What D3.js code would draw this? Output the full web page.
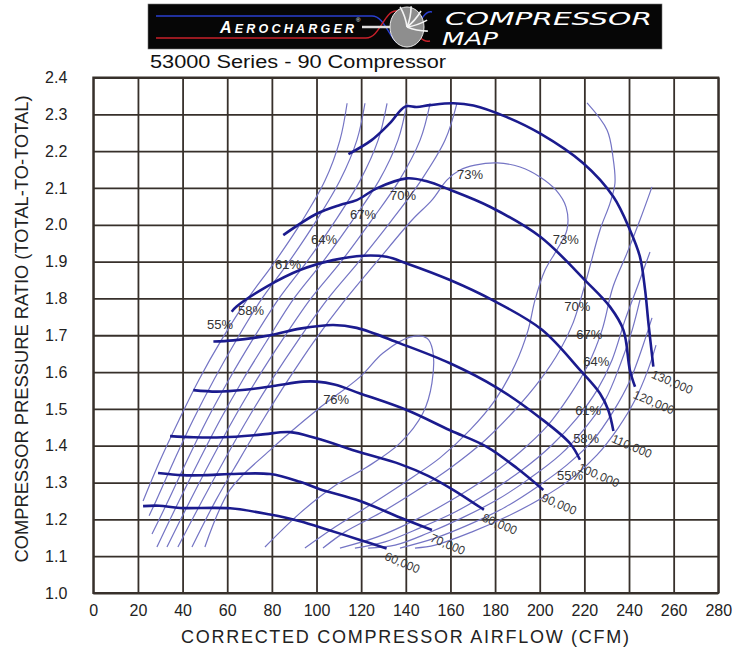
<!DOCTYPE html>
<html>
<head>
<meta charset="utf-8">
<script src="https://cdn.jsdelivr.net/npm/d3@7"></script>
<style>
  body { margin: 0; background: #fff; }
  text { font-family: "Liberation Sans", Arial, Helvetica, sans-serif; }
</style>
</head>
<body>
<svg id="map"></svg>
<script>
// Tick values
const xTicks = [0, 20, 40, 60, 80, 100, 120, 140, 160, 180, 200, 220, 240, 260, 280];
const yTicks = [1.0, 1.1, 1.2, 1.3, 1.4, 1.5, 1.6, 1.7, 1.8, 1.9, 2.0, 2.1, 2.2, 2.3, 2.4];

// Speed lines [cfm, pressure ratio]
const spd60 = [[22.3,1.236],[29.5,1.237],[38.9,1.231],[61.3,1.230],[79.2,1.213],[92.6,1.195],[105,1.172],[119.5,1.144],[131.4,1.121]];
const spd70 = [[29.0,1.326],[40,1.320],[50,1.320],[61.3,1.323],[79.2,1.323],[92.6,1.302],[101.5,1.282],[119.5,1.250],[137.4,1.205],[151.7,1.171]];
const spd80 = [[34.4,1.426],[45,1.423],[58.1,1.423],[75,1.430],[88.1,1.437],[100,1.420],[119.5,1.382],[137.4,1.350],[150,1.318],[161.2,1.280],[175.0,1.226]];
const spd90 = [[44.8,1.551],[55.3,1.547],[68,1.552],[80.6,1.562],[94.1,1.574],[100.1,1.574],[108,1.566],[119.5,1.542],[140.4,1.497],[159.8,1.442],[176.3,1.397],[190,1.338],[201.6,1.280]];
const spd100 = [[53.8,1.683],[62.7,1.686],[79.2,1.700],[92.6,1.718],[107.5,1.728],[118,1.720],[137.4,1.678],[159.8,1.624],[180.7,1.558],[200.1,1.476],[213.6,1.406],[218,1.362]];
const spd110 = [[62,1.764],[64.2,1.778],[77.7,1.832],[92.6,1.877],[107.4,1.904],[121,1.916],[131.4,1.913],[140.4,1.895],[159.8,1.850],[179.3,1.794],[201,1.715],[218,1.606],[227,1.542],[230.7,1.497],[233,1.440]];
const spd120 = [[85.1,1.972],[100.1,2.030],[110.5,2.054],[118,2.067],[127,2.099],[140.4,2.126],[149.4,2.118],[159.8,2.095],[177.7,2.049],[200.1,1.968],[221,1.845],[231.5,1.777],[237.5,1.714],[240.4,1.605],[242.7,1.560]];
const spd130 = [[114.3,2.192],[124.7,2.230],[132.9,2.276],[139.7,2.321],[144.9,2.320],[150.9,2.325],[161.3,2.330],[170.3,2.324],[185,2.293],[200.1,2.248],[219.5,2.167],[233,2.076],[240.4,1.986],[244.9,1.913],[247.2,1.823],[248.7,1.733],[250.9,1.615]];
const speedNames = ["60,000", "70,000", "80,000", "90,000", "100,000", "110,000", "120,000", "130,000"];

// Efficiency contours, surge side
const eff55L = [[113.7,2.33],[110.5,2.23],[103.8,2.12],[93.5,2.01],[81.4,1.90],[69.3,1.80],[57.7,1.69],[47.4,1.58],[38.4,1.47],[29.9,1.36],[22.3,1.25]];
const eff58L = [[121.7,2.33],[118.1,2.23],[110.5,2.12],[99.8,2.01],[87.7,1.90],[75.6,1.80],[64.4,1.69],[54.1,1.58],[44.7,1.47],[36.2,1.36],[28.1,1.25],[25.0,1.21]];
const eff61L = [[131.6,2.33],[127.6,2.23],[119.5,2.12],[108.3,2.01],[95.7,1.90],[83.2,1.80],[71.6,1.69],[60.8,1.58],[50.9,1.47],[42.0,1.36],[33.5,1.25],[26.3,1.16]];
const eff64L = [[140.5,2.33],[136.5,2.23],[128.0,2.12],[115.9,2.01],[102.9,1.90],[89.9,1.80],[78.3,1.69],[67.1,1.58],[56.8,1.47],[47.4,1.36],[38.4,1.25],[28.5,1.125]];
const eff67L = [[150.9,2.33],[146.4,2.23],[137.0,2.12],[124.4,2.01],[111.0,1.90],[97.5,1.80],[85.0,1.69],[73.3,1.58],[62.6,1.47],[52.7,1.36],[43.3,1.25],[33.0,1.125]];
const eff70L = [[162.9,2.33],[157.6,2.23],[146.8,2.12],[133.4,2.01],[119.0,1.90],[105.2,1.80],[92.2,1.69],[80.1,1.58],[68.9,1.47],[58.6,1.36],[48.7,1.25],[37.9,1.125]];

// Efficiency contours, choke side
const eff55R = [[252.1,1.673],[248.5,1.606],[242.7,1.524],[235.1,1.448],[225.7,1.375],[214.5,1.312],[201.0,1.258],[185.8,1.209],[169.7,1.166],[153.1,1.130],[144.1,1.122]];
const eff58R = [[250.3,1.747],[246.3,1.673],[240.5,1.578],[232.8,1.492],[223.9,1.415],[212.2,1.348],[198.8,1.288],[184.5,1.233],[168.8,1.187],[153.1,1.149],[137.4,1.122]];
const eff61R = [[244.9,1.796],[241.4,1.714],[236.0,1.619],[229.3,1.524],[220.3,1.448],[209.1,1.375],[195.7,1.312],[180.9,1.253],[165.2,1.204],[150.0,1.163],[135.2,1.130],[123.1,1.122]];
const eff64R = [[249.4,1.926],[244.0,1.836],[238.2,1.741],[232.4,1.633],[225.7,1.551],[216.7,1.475],[205.5,1.402],[192.1,1.334],[177.7,1.275],[162.1,1.220],[146.4,1.177],[130.7,1.139],[117.2,1.122]];
const eff67R = [[250.3,2.103],[244.9,2.013],[239.1,1.923],[232.8,1.831],[227.9,1.714],[221.6,1.619],[213.6,1.538],[203.7,1.456],[191.2,1.383],[176.8,1.315],[160.7,1.253],[144.1,1.198],[127.6,1.153],[110.5,1.122]];
const eff70R = [[221.2,2.331],[230.2,2.257],[232.8,2.184],[233.7,2.113],[231.5,2.059],[227.0,1.986],[221.2,1.858],[214.9,1.733],[209.1,1.660],[200.1,1.578],[188.9,1.497],[175.5,1.415],[159.8,1.339],[144.1,1.275],[128.5,1.217],[112.8,1.166],[102.9,1.122]];

// Islands
const eff73 = [[44.2,1.125],[55.0,1.253],[65.3,1.361],[76.0,1.470],[87.2,1.578],[99.3,1.687],[112.8,1.796],[127.6,1.904],[142.8,2.013],[151.7,2.067],[158.5,2.122],[164.3,2.149],[171.0,2.162],[180.9,2.168],[191.2,2.157],[200.1,2.130],[207.3,2.094],[211.8,2.048],[212.2,1.986],[207.7,1.932],[202.4,1.877],[197.9,1.796],[194.8,1.714],[188.9,1.619],[180.0,1.524],[168.8,1.443],[155.3,1.367],[139.7,1.301],[124.0,1.239],[108.3,1.179],[94.8,1.122]];
const eff76 = [[50.0,1.125],[61.2,1.280],[79.2,1.388],[100.2,1.497],[119.5,1.587],[129.8,1.652],[141.9,1.695],[149.5,1.692],[152.0,1.660],[151.7,1.570],[147.7,1.489],[137.4,1.407],[122.6,1.342],[107.4,1.288],[92.6,1.217],[76.9,1.125]];

// Efficiency labels
const effText = ["55%", "58%", "61%", "64%", "67%", "70%", "73%", "73%", "70%", "67%", "64%", "61%", "58%", "55%", "76%"];
const effX = [56.8, 70.7, 87.2, 103.4, 120.8, 138.8, 168.8, 211.7, 216.8, 222.2, 225.3, 221.7, 220.8, 213.6, 108.8];
const effY = [1.728, 1.766, 1.891, 1.959, 2.029, 2.081, 2.138, 1.959, 1.777, 1.703, 1.630, 1.497, 1.421, 1.320, 1.527];

// Set up dimensions
const width = 736;
const height = 656;
const gridColor = "#37302b";

const svg = d3.select("#map").attr("width", width).attr("height", height);

// Create scales
const xScale = d3.scaleLinear().domain([0, 280]).range([93.3, 718.3]);
const yScale = d3.scaleLinear().domain([1.0, 2.4]).range([593, 77.5]);
const plotH = yScale(1.0) - yScale(2.4);
const plotW = xScale(280) - xScale(0);

// Header banner
const head = svg.append("g");
head.append("rect").attr("x", 148).attr("y", 4).attr("width", 514).attr("height", 45)
  .attr("fill", "#060606").attr("stroke", "#777").attr("stroke-width", 0.6);
head.append("path").attr("d", "M156,16H372C386,16 390,44 402,44S420,9 432,12")
  .attr("fill", "none").attr("stroke", "#2a3fd0").attr("stroke-width", 1.4);
head.append("path").attr("d", "M156,38H366C380,38 384,11 396,11S416,45 430,41")
  .attr("fill", "none").attr("stroke", "#c8202a").attr("stroke-width", 1.4);
head.append("line").attr("x1", 362).attr("x2", 392).attr("y1", 27).attr("y2", 27)
  .attr("stroke", "#ddd").attr("stroke-width", 2.5);
head.append("ellipse").attr("cx", 407).attr("cy", 27).attr("rx", 17).attr("ry", 20)
  .attr("fill", "#8e8e8e").attr("stroke", "#e8e8e8").attr("stroke-width", 1);
[-60, -30, 0, 30, 60].forEach(a => {
  head.append("path")
    .attr("d", "M407,27 q8,-6 14,-16")
    .attr("transform", `rotate(${a},407,27)`)
    .attr("fill", "none").attr("stroke", "#f4f4f4").attr("stroke-width", 1.6);
});
const brand = head.append("text").attr("x", 220).attr("y", 33)
  .attr("fill", "#fff").attr("font-style", "italic").attr("font-weight", "bold")
  .attr("textLength", 134).attr("lengthAdjust", "spacing");
brand.append("tspan").attr("font-size", 16).text("A");
brand.append("tspan").attr("font-size", 12.5).text("EROCHARGER");
head.append("text").attr("x", 356).attr("y", 22).attr("fill", "#fff").attr("font-size", 6).text("®");
head.append("text").attr("x", 445).attr("y", 25).attr("fill", "#fff")
  .attr("font-size", 17).attr("font-style", "italic").style("font-family", "'DejaVu Sans', sans-serif")
  .attr("textLength", 207).attr("lengthAdjust", "spacingAndGlyphs").text("COMPRESSOR");
head.append("text").attr("x", 442).attr("y", 45).attr("fill", "#fff")
  .attr("font-size", 17).attr("font-style", "italic").style("font-family", "'DejaVu Sans', sans-serif")
  .attr("textLength", 56).attr("lengthAdjust", "spacingAndGlyphs").text("MAP");

// Subtitle
svg.append("text").attr("x", 150).attr("y", 68).attr("font-size", 18).attr("fill", "#111")
  .attr("textLength", 296).attr("lengthAdjust", "spacingAndGlyphs")
  .text("53000 Series - 90 Compressor");

// Grid + tick labels through the axes
const xAxisGroup = svg.append("g")
  .attr("transform", `translate(0, ${yScale(1.0)})`)
  .call(d3.axisBottom(xScale).tickValues(xTicks).tickSize(-plotH).tickPadding(12).tickFormat(d3.format("d")));
const yAxisGroup = svg.append("g")
  .attr("transform", `translate(${xScale(0)}, 0)`)
  .call(d3.axisLeft(yScale).tickValues(yTicks).tickSize(-plotW).tickPadding(26).tickFormat(d3.format(".1f")));

[xAxisGroup, yAxisGroup].forEach(g => {
  g.select(".domain").remove();
  g.selectAll(".tick line").attr("stroke", gridColor).attr("stroke-width", 1.8);
  g.selectAll(".tick text").attr("font-size", 16).attr("fill", "#222");
});

svg.append("rect")
  .attr("x", xScale(0)).attr("y", yScale(2.4))
  .attr("width", plotW).attr("height", plotH)
  .attr("fill", "none").attr("stroke", gridColor).attr("stroke-width", 2);

// Axis titles
svg.append("text").attr("x", 405).attr("y", 643).attr("text-anchor", "middle")
  .attr("font-size", 18).attr("fill", "#222")
  .attr("textLength", 448).attr("lengthAdjust", "spacing")
  .text("CORRECTED COMPRESSOR AIRFLOW (CFM)");
svg.append("text").attr("transform", "translate(28,329) rotate(-90)").attr("text-anchor", "middle")
  .attr("font-size", 18).attr("fill", "#222")
  .attr("textLength", 467).attr("lengthAdjust", "spacingAndGlyphs")
  .text("COMPRESSOR PRESSURE RATIO (TOTAL-TO-TOTAL)");

// Line generator
const line = d3.line()
  .x(d => xScale(d[0]))
  .y(d => yScale(d[1]))
  .curve(d3.curveCatmullRom.alpha(0.5));

// Efficiency contours
const effLines = [eff55L, eff58L, eff61L, eff64L, eff67L, eff70L,
  eff55R, eff58R, eff61R, eff64R, eff67R, eff70R, eff73, eff76];
svg.append("g").selectAll("path").data(effLines).join("path")
  .attr("d", line)
  .attr("fill", "none")
  .attr("stroke", "#7474c4")
  .attr("stroke-width", 1.2);

// Speed lines
const speedLines = [spd60, spd70, spd80, spd90, spd100, spd110, spd120, spd130];
svg.append("g").selectAll("path").data(speedLines).join("path")
  .attr("d", line)
  .attr("fill", "none")
  .attr("stroke", "#1b1b8e")
  .attr("stroke-width", 2.6)
  .attr("stroke-linejoin", "round");

// Speed labels at the end of each line
svg.append("g").selectAll("text").data(speedLines).join("text")
  .attr("transform", d => {
    const last = d[d.length - 1];
    return `translate(${xScale(last[0]) + 1},${yScale(last[1]) + 2}) rotate(23)`;
  })
  .attr("dy", "0.8em")
  .attr("font-size", 12)
  .attr("fill", "#3a3a3a")
  .text((d, i) => speedNames[i]);

// Efficiency labels
svg.append("g").selectAll("text").data(effText).join("text")
  .attr("x", (d, i) => xScale(effX[i]))
  .attr("y", (d, i) => yScale(effY[i]))
  .attr("dy", "0.35em")
  .attr("text-anchor", "middle")
  .attr("font-size", 13)
  .attr("fill", "#333")
  .text(d => d);
</script>
</body>
</html>
